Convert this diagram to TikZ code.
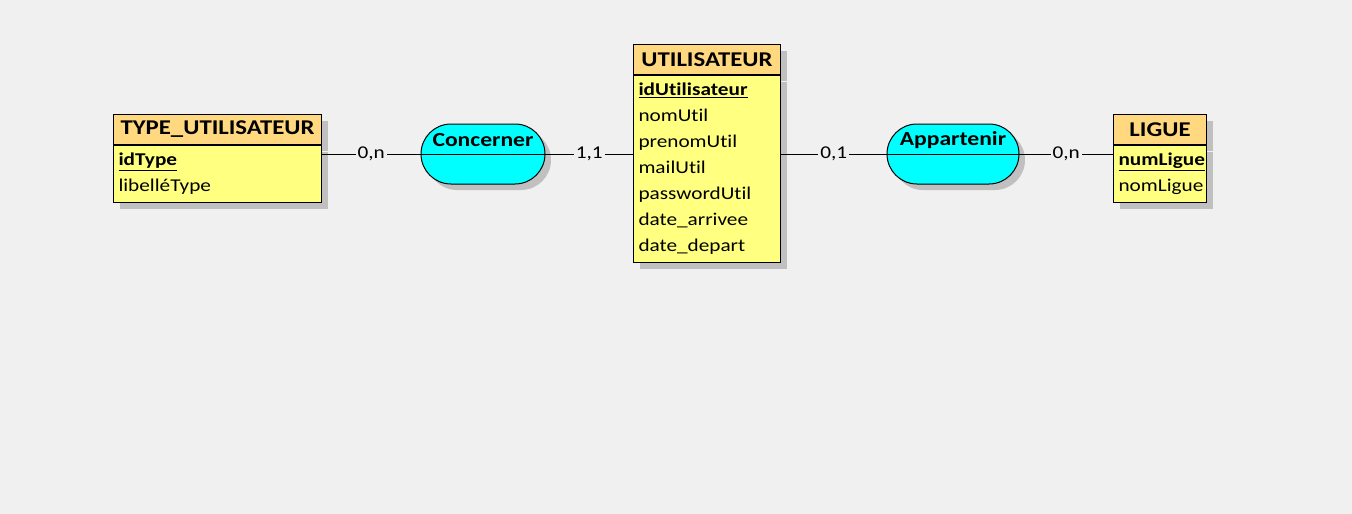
\documentclass[tikz,border=0pt]{standalone}
\usepackage{fontspec}
\setmainfont{Carlito}[FakeStretch=1.18, Ligatures=NoCommon]
\usetikzlibrary{positioning, shapes.misc, shadows}
\definecolor{bggray}{RGB}{240,240,240}
\definecolor{hdrorange}{RGB}{255,216,128}
\definecolor{bodyyellow}{RGB}{255,255,128}
\definecolor{assocyan}{RGB}{0,255,255}
\definecolor{shadowgray}{RGB}{192,192,192}

\begin{document}
\begin{tikzpicture}[x=1pt, y=-1pt,
  shade6/.style={drop shadow={shadow xshift=6pt, shadow yshift=-6pt,
    fill=shadowgray, opacity=1}},
  enthead/.style={draw, line width=1pt, fill=hdrorange, anchor=north west,
    minimum height=30pt, inner sep=0pt, shade6,
    font=\fontsize{21}{23}\selectfont\bfseries},
  entbody/.style={draw, line width=1pt, fill=bodyyellow, anchor=north west,
    inner xsep=5pt, inner ysep=0pt, align=left, shade6,
    font=\fontsize{18}{26}\selectfont},
  asso/.style={rounded rectangle, draw, line width=1pt, fill=assocyan,
    minimum height=60pt, inner sep=0pt, shade6},
  assolbl/.style={inner sep=0pt, font=\fontsize{20}{22}\selectfont\bfseries},
  card/.style={fill=bggray, inner sep=2pt, font=\fontsize{18}{20}\selectfont},
  lnk/.style={line width=1pt},
]
% background and page size
\fill[bggray] (0,0) rectangle (1352,514);

% Entities
\node[enthead, minimum width=208pt] (typeHead) at (113,114) {TYPE\_UTILISATEUR};
\node[entbody, text width=198pt, minimum height=57pt] (typeBody)
  at (typeHead.south west) {\underline{\textbf{idType}}\\libelléType};

\node[enthead, minimum width=147pt] (utilHead) at (633,44) {UTILISATEUR};
\node[entbody, text width=137pt, minimum height=187pt] (utilBody)
  at (utilHead.south west) {\underline{\textbf{idUtilisateur}}\\nomUtil\\prenomUtil\\
  mailUtil\\passwordUtil\\date\_arrivee\\date\_depart};

\node[enthead, minimum width=93pt] (ligueHead) at (1113,114) {LIGUE};
\node[entbody, text width=83pt, minimum height=57pt] (ligueBody)
  at (ligueHead.south west) {\underline{\textbf{numLigue}}\\nomLigue};

% Associations
\node[asso, minimum width=124pt] (concerner) at (483,154) {};
\draw[line width=1pt] (concerner.west) -- (concerner.east);
\node[assolbl] (concernerLbl) at ([yshift=14pt]concerner.center) {Concerner};

\node[asso, minimum width=132pt] (appartenir) at (953,154) {};
\draw[line width=1pt] (appartenir.west) -- (appartenir.east);
\node[assolbl] (appartenirLbl) at ([yshift=14pt]appartenir.center) {Appartenir};

% Links with cardinalities
\draw[lnk] (typeBody.east |- concerner.west) -- node[card] {0,n} (concerner.west);
\draw[lnk] (concerner.east) -- node[card] {1,1} (concerner.east -| utilBody.west);
\draw[lnk] (utilBody.east |- appartenir.west) -- node[card] {0,1} (appartenir.west);
\draw[lnk] (appartenir.east) -- node[card] {0,n} (appartenir.east -| ligueBody.west);
\end{tikzpicture}
\end{document}
